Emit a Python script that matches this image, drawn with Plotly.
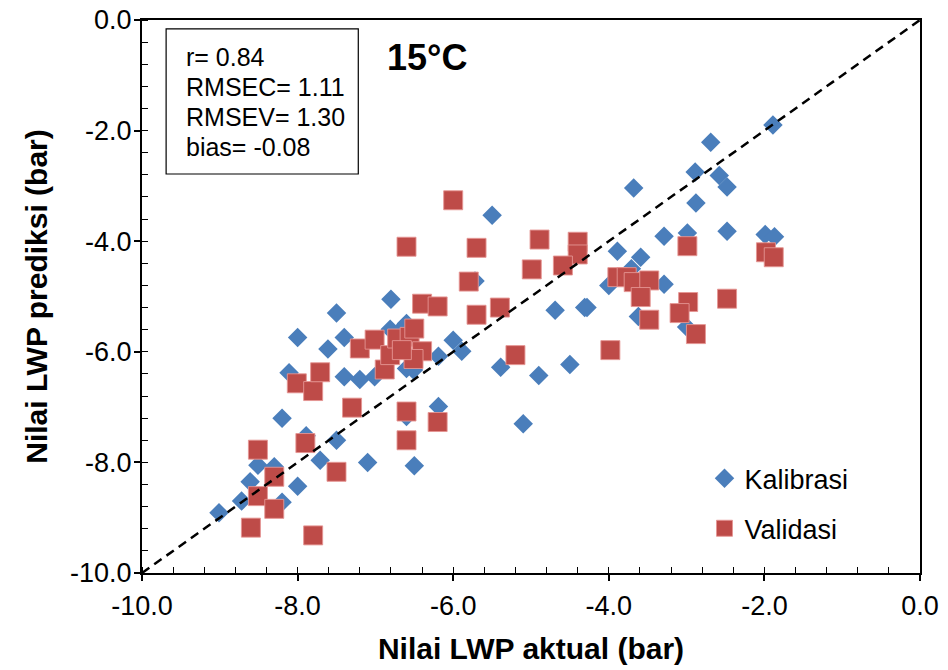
import plotly.graph_objects as go

# Kalibrasi (calibration) points: actual LWP (bar), predicted LWP (bar)
kal_x = [-1.89, -2.69, -2.89, -2.58, -2.48, -3.68, -2.88, -3.29, -2.99, -2.48,
         -1.99, -1.87, -3.89, -3.59, -3.71, -4.00, -3.29, -4.28, -3.62, -3.00,
         -5.50, -5.72, -6.80, -4.69, -4.31, -6.00, -5.89, -6.19, -5.39, -4.90,
         -4.50, -6.19, -6.60, -5.10, -6.50, -6.60, -7.50, -8.00, -7.40, -7.61,
         -6.81, -8.11, -7.40, -7.20, -7.01, -8.20, -7.89, -7.50, -7.71, -7.10,
         -8.51, -8.30, -8.61, -8.00, -8.72, -8.20, -9.01, -6.60, -6.51, -6.64]
kal_y = [-1.90, -2.21, -2.75, -2.81, -3.02, -3.04, -3.31, -3.91, -3.85, -3.82,
         -3.88, -3.92, -4.18, -4.29, -4.50, -4.80, -4.78, -5.20, -5.36, -5.55,
         -3.53, -4.72, -5.05, -5.25, -5.20, -5.79, -5.99, -6.08, -6.28, -6.43,
         -6.23, -6.99, -7.17, -7.30, -8.06, -6.30, -5.30, -5.74, -5.74, -5.95,
         -5.59, -6.38, -6.45, -6.50, -6.45, -7.20, -7.52, -7.60, -7.96, -8.00,
         -8.05, -8.08, -8.35, -8.43, -8.70, -8.72, -8.91, -5.49, -6.33, -5.55]

# Validasi (validation) points
val_x = [-6.00, -6.60, -5.70, -4.89, -4.40, -4.40, -4.99, -4.59, -5.80, -6.40,
         -6.20, -5.70, -5.40, -5.20, -2.99, -1.98, -1.88, -3.89, -3.77, -3.68,
         -3.48, -3.59, -3.48, -2.98, -3.09, -2.48, -2.88, -3.98, -6.60, -6.20,
         -6.60, -8.01, -7.80, -7.71, -7.30, -8.51, -7.90, -8.30, -8.51, -8.30,
         -7.50, -8.60, -7.80, -7.20, -7.01, -6.88, -6.81, -6.72, -6.56, -6.50,
         -6.40, -6.51, -6.66]
val_y = [-3.26, -4.10, -4.12, -3.97, -4.01, -4.24, -4.51, -4.44, -4.73, -5.13,
         -5.18, -5.33, -5.20, -6.06, -4.09, -4.20, -4.29, -4.65, -4.65, -4.74,
         -4.71, -5.01, -5.42, -5.10, -5.30, -5.04, -5.68, -5.97, -7.08, -7.27,
         -7.60, -6.57, -6.71, -6.37, -7.01, -7.77, -7.65, -8.26, -8.61, -8.84,
         -8.17, -9.18, -9.32, -5.94, -5.78, -6.32, -6.06, -5.76, -5.73, -5.58,
         -5.99, -6.13, -5.97]

series_names = ["Kalibrasi", "Validasi"]
axis_range = [-10.0, 0.0]
tick_vals = [-10.0, -8.0, -6.0, -4.0, -2.0, 0.0]
tick_text = ["-10.0", "-8.0", "-6.0", "-4.0", "-2.0", "0.0"]
x_title = "Nilai LWP aktual (bar)"
y_title = "Nilai LWP prediksi (bar)"
stats_lines = ["r= 0.84", "RMSEC= 1.11", "RMSEV= 1.30", "bias= -0.08"]
temp_label = "15°C"

FONT = "Liberation Sans, Arial, sans-serif"
BLUE = "#4A7EBB"
RED = "#BE4B48"

fig = go.Figure()
fig.add_trace(go.Scatter(
    x=kal_x, y=kal_y, mode="markers", name=series_names[0], legendgroup="a",
    marker=dict(symbol="diamond", size=15, color=BLUE, line=dict(width=0)),
))
fig.add_trace(go.Scatter(
    x=val_x, y=val_y, mode="markers", name=series_names[1], legendgroup="b",
    marker=dict(symbol="square", size=19, color=RED,
                line=dict(width=1, color="rgba(230,150,148,0.9)")),
))
fig.add_trace(go.Scatter(
    x=axis_range, y=axis_range, mode="lines", showlegend=False,
    line=dict(color="black", width=2.5, dash="9px,6px"), hoverinfo="skip",
))

axis_common = dict(
    range=axis_range, tickvals=tick_vals, ticktext=tick_text, automargin=False,
    showgrid=False, zeroline=False, showline=True, linecolor="black",
    linewidth=2, mirror=True, ticks="outside", ticklen=6, tickwidth=1.5,
    tickcolor="black", tickfont=dict(family=FONT, size=27, color="black"),
    minor=dict(dtick=0.4, tick0=0, ticks="inside", ticklen=6,
               tickwidth=1.2, tickcolor="black", showgrid=False),
)

fig.update_xaxes(**axis_common, ticklabelstandoff=2,
                 title=dict(text="<b>" + x_title + "</b>", standoff=18,
                            font=dict(family=FONT, size=30, color="black")))
fig.update_yaxes(**axis_common, ticklabelstandoff=-3,
                 title=dict(text="<b>" + y_title + "</b>", standoff=14,
                            font=dict(family=FONT, size=30, color="black")))

fig.add_shape(type="rect", xref="paper", yref="paper",
              x0=0.031, x1=0.278, y0=0.7215, y1=0.984,
              line=dict(color="black", width=1.2), fillcolor="white", layer="above")

# stats lines, one annotation per line (pixel centres ~57, 87, 117, 147)
line_centres_px = [57, 87, 117, 147]
for txt, cy in zip(stats_lines, line_centres_px):
    fig.add_annotation(xref="paper", yref="paper", x=0.0535,
                       y=(573 - cy) / 553, xanchor="left", yanchor="middle",
                       align="left", text=txt, showarrow=False,
                       font=dict(family=FONT, size=25, color="black"))

fig.add_annotation(xref="paper", yref="paper", x=0.366, y=0.933,
                   xanchor="center", yanchor="middle",
                   text="<b>" + temp_label + "</b>", showarrow=False,
                   font=dict(family=FONT, size=36, color="black"))

fig.update_layout(
    width=948, height=670,
    margin=dict(l=142, r=28, t=20, b=97, autoexpand=False),
    paper_bgcolor="white", plot_bgcolor="white",
    font=dict(family=FONT, color="black"),
    legend=dict(x=0.723, y=0.215, xanchor="left", yanchor="top",
                bgcolor="rgba(0,0,0,0)", traceorder="grouped",
                tracegroupgap=12,
                font=dict(family=FONT, size=27, color="black")),
)

fig.write_html("out.html")
